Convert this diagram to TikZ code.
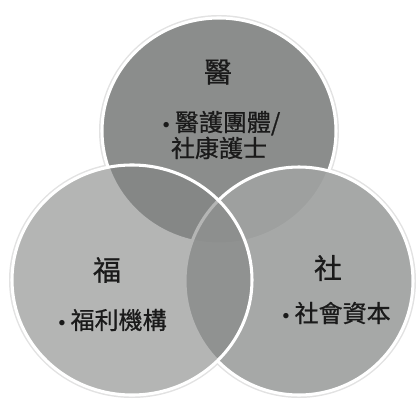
\documentclass[tikz,border=0pt]{standalone}
\usepackage{fontspec}
\newfontfamily\cjk[FakeBold=0.8]{Noto Sans CJK TC}
\definecolor{topgray}{RGB}{139,141,140}
\definecolor{rightgray}{RGB}{160,162,161}
\definecolor{leftgray}{RGB}{130,132,131}
\definecolor{halogray}{RGB}{226,226,226}
\definecolor{textgray}{RGB}{26,26,26}
\newcommand{\vbul}{{\rmfamily\textbullet}}
\tikzset{
  venn edge/.style={draw=white, line width=2.3pt},
  venn label/.style={font=\cjk\fontsize{21}{24}\selectfont, text=textgray, inner sep=0pt},
  venn item/.style={font=\cjk\fontsize{18}{19.5}\selectfont, text=textgray, align=center, inner sep=0pt},
}

\begin{document}
\begin{tikzpicture}[x=0.75pt,y=0.75pt,yscale=-1,xscale=1]
\useasboundingbox (0,0) rectangle (419,401);

\coordinate (medC) at (219,131);
\coordinate (welC) at (132,280);
\coordinate (socC) at (299,281);

%Halo round the three circles
\fill[halogray] (medC) ellipse [x radius=120, y radius=116];
\fill[halogray] (welC) ellipse [x radius=123, y radius=118];
\fill[halogray] (socC) circle [radius=117];
\fill[white] (medC) ellipse [x radius=117, y radius=113];
\fill[white] (welC) ellipse [x radius=120, y radius=115];
\fill[white] (socC) circle [radius=114];

%Shape: Ellipse (top)
\filldraw[fill=topgray, venn edge] (medC) ellipse [x radius=117, y radius=113];
%Shape: Ellipse (right)
\filldraw[fill=rightgray, fill opacity=0.93, venn edge] (socC) circle [radius=114];
%Shape: Ellipse (left)
\filldraw[fill=leftgray, fill opacity=0.6, venn edge] (welC) ellipse [x radius=120, y radius=115];

% Text Node
\node[venn label] (medT) at (218,72) {醫};
% Text Node
\node[venn item] (medI) at (219,135) {\vbul 醫護團體/\\社康護士};
% Text Node
\node[venn label] (welT) at (107,270) {福};
% Text Node
\node[venn item] (welI) at (110,320) {\vbul 福利機構};
% Text Node
\node[venn label] (socT) at (328,268) {社};
% Text Node
\node[venn item] (socI) at (334,313) {\vbul 社會資本};

\end{tikzpicture}
\end{document}
